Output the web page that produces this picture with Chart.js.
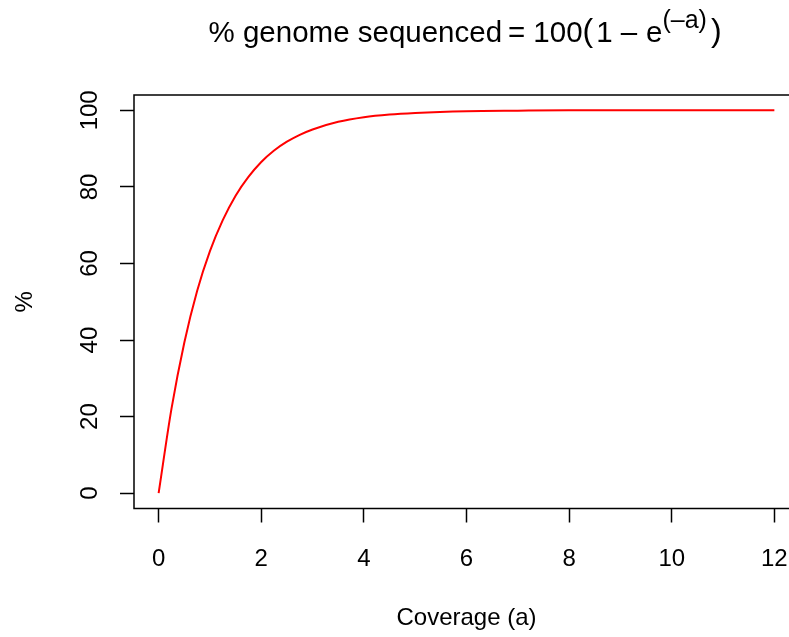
<!DOCTYPE html>
<html>
<head>
<meta charset="utf-8">
<script src="https://cdn.jsdelivr.net/npm/chart.js@4.4.0/dist/chart.umd.min.js"></script>
<style>
    html, body { margin: 0; padding: 0; background: #fff; overflow: hidden; }
    #wrap { position: relative; width: 800px; height: 637px; }
    #title {
        position: absolute; left: 208.5px; top: 16.5px;
        white-space: nowrap;
        font: 29.5px "Liberation Sans", Arial, Helvetica, sans-serif;
        line-height: 29.5px; color: #000;
    }
    #title span { line-height: 0; position: relative; }
    #title .eq { margin: 0 8px 0 6px; }
    #title .big { font-size: 32px; top: -1px; }
    #title .open { margin-right: 3px; }
    #title .op { margin: 0 9px 0 8px; }
    #title .sup { font-size: 25px; top: -14px; margin-right: 4px; }
</style>
</head>
<body>
<div id="wrap">
    <canvas id="coverageChart" width="800" height="637"></canvas>
    <div id="title">% genome sequenced<span class="eq">=</span>100<span class="big open">(</span>1<span class="op">–</span>e<span class="sup">(–a)</span><span class="big">)</span></div>
</div>
<script>
// values
const coverage = [0, 0.25, 0.5, 0.75, 1, 1.25, 1.5, 1.75, 2, 2.25, 2.5, 2.75, 3, 3.5, 4, 4.5, 5, 6, 7, 8, 9, 10, 11, 12];
const percentSequenced = [0, 22, 39.3, 52.8, 63.2, 71.3, 77.7, 82.6, 86.5, 89.5, 91.8, 93.6, 95, 97, 98.2, 98.9, 99.3, 99.75, 99.9, 100, 100, 100, 100, 100];

const xTicks = [0, 2, 4, 6, 8, 10, 12];
const yTicks = [0, 20, 40, 60, 80, 100];

Chart.defaults.font.family = '"Liberation Sans", Arial, Helvetica, sans-serif';
Chart.defaults.font.size = 24;
Chart.defaults.color = "#000";

// plot frame like R's box()
const boxPlugin = {
    id: "box",
    afterDraw(chart) {
        const { ctx, chartArea } = chart;
        ctx.save();
        ctx.strokeStyle = "#000";
        ctx.lineWidth = 1.5;
        ctx.strokeRect(chartArea.left, chartArea.top, chartArea.right - chartArea.left, chartArea.bottom - chartArea.top);
        ctx.restore();
    }
};

// keep label overhang from shrinking the plot area
function noPad(s) {
    s.paddingLeft = 0;
    s.paddingRight = 0;
    s.paddingTop = 0;
    s.paddingBottom = 0;
}

const ctx = document.getElementById("coverageChart").getContext("2d");

new Chart(ctx, {
    type: "line",
    data: {
        datasets: [{
            data: coverage.map((a, i) => ({ x: a, y: percentSequenced[i] })),
            borderColor: "#ff0000",
            borderWidth: 2,
            pointRadius: 0,
            fill: false,
            cubicInterpolationMode: "monotone"
        }]
    },
    options: {
        responsive: false,
        animation: false,
        layout: { padding: { top: 95, right: 1, left: 0, bottom: 0 } },
        plugins: {
            legend: { display: false },
            tooltip: { enabled: false }
        },
        scales: {
            x: {
                type: "linear",
                min: -0.48,
                max: 12.48,
                afterBuildTicks: s => { s.ticks = xTicks.map(v => ({ value: v })); },
                afterFit: s => { s.height = 128.5; noPad(s); },
                border: { display: false },
                grid: { drawOnChartArea: false, tickLength: 14, tickColor: "#000", tickWidth: 1.5 },
                ticks: { padding: 22.5, maxRotation: 0, color: "#000" },
                title: { display: true, text: "Coverage (a)", padding: { bottom: 4.5 } }
            },
            y: {
                min: -4,
                max: 104,
                afterBuildTicks: s => { s.ticks = yTicks.map(v => ({ value: v })); },
                afterFit: s => { s.width = 134; noPad(s); },
                border: { display: false },
                grid: { drawOnChartArea: false, tickLength: 14, tickColor: "#000", tickWidth: 1.5 },
                ticks: { minRotation: 90, maxRotation: 90, crossAlign: "center", padding: 10, color: "#000" },
                title: { display: true, text: "%", padding: { top: 11 } }
            }
        }
    },
    plugins: [boxPlugin]
});
</script>
</body>
</html>
